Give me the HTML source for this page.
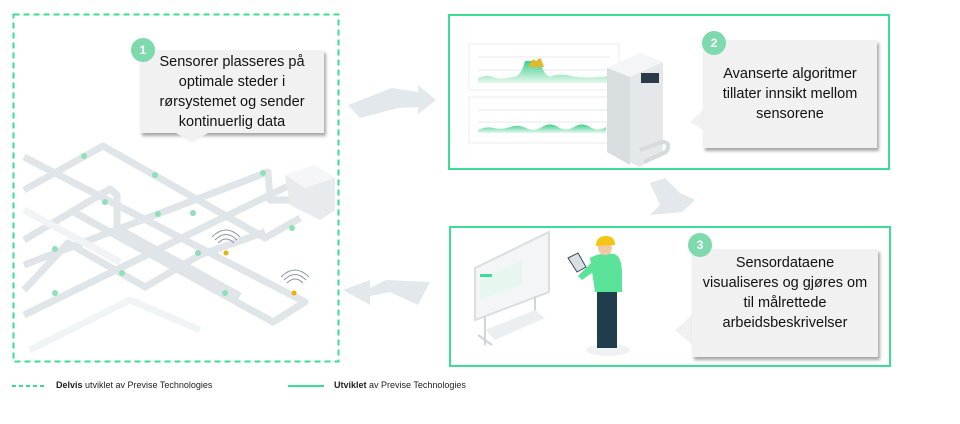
<!DOCTYPE html>
<html><head><meta charset="utf-8"><style>
body{margin:0;background:#fff;width:960px;height:424px;overflow:hidden;font-family:"Liberation Sans",sans-serif}
svg{position:absolute;left:0;top:0}
.b{position:absolute;background:#f1f1f1;box-shadow:2px 3px 3px rgba(0,0,0,.35);color:#111;text-align:center;font-size:14.5px;line-height:20px}
.c{position:absolute;width:24px;height:24px;border-radius:50%;background:#7ed9ad;color:#fff;font-weight:bold;font-size:12px;line-height:24px;text-align:center}
.lg{position:absolute;top:380px;font-size:9px;color:#222}
</style></head><body>
<svg width="960" height="424" viewBox="0 0 960 424">
<defs><linearGradient id="g" x1="0" y1="0" x2="0" y2="1"><stop offset="0" stop-color="#3fcf8e"/><stop offset="1" stop-color="#e6f8ee"/></linearGradient></defs>
<rect x="13.5" y="14.5" width="325" height="347" fill="none" stroke="#3ddc97" stroke-width="2" stroke-dasharray="6,4"/>
<rect x="449" y="15" width="440" height="154" fill="none" stroke="#3ddc97" stroke-width="2"/>
<rect x="450" y="227" width="440" height="139" fill="none" stroke="#3ddc97" stroke-width="2"/>
<g fill="none" stroke="#dfe5e8" stroke-width="7" stroke-linejoin="round">
<polyline points="24,190 103,146 265,238 300,218"/>
<polyline points="24,157 305,302 273,322 70,210"/>
<polyline points="24,240 110,189 117,195 117,228 240,296"/>
<polyline points="24,265 268,172 270,200 292,200"/>
<polyline points="24,315 290,185"/>
<polyline points="24,290 68,243 145,287 200,255 265,232"/>
</g>
<g fill="none" stroke="#f1f4f5" stroke-width="7"><polyline points="30,350 130,300 200,330"/><polyline points="24,210 120,262"/></g>
<g fill="#8fe0b8"><circle cx="84" cy="156" r="3"/><circle cx="155" cy="175" r="3"/><circle cx="158" cy="214" r="3"/><circle cx="193" cy="213" r="3"/><circle cx="263" cy="173" r="3"/><circle cx="55" cy="249" r="3"/><circle cx="122" cy="273" r="3"/><circle cx="225" cy="293" r="3"/><circle cx="198" cy="253" r="3"/><circle cx="292" cy="228" r="3"/><circle cx="105" cy="202" r="3"/><circle cx="55" cy="293" r="3"/></g>
<g fill="none" stroke="#8a98a0" stroke-width="1"><path d="M218,243 q8,-8 16,0 M215,240 q11,-11 22,0 M212,237 q14,-14 28,0"/><path d="M287,283 q8,-8 16,0 M284,280 q11,-11 22,0 M281,277 q14,-14 28,0"/></g>
<circle cx="226" cy="253" r="2.5" fill="#e8b400"/><circle cx="294" cy="293" r="2.5" fill="#e8b400"/>
<polygon points="285,175 315,165 335,178 335,210 320,220 290,205" fill="#e7ebed"/><polygon points="285,175 315,165 335,178 305,188" fill="#f4f6f7"/>
<polygon points="348,105 392,88 418,92 418,85 436,100 418,114 418,107 398,108 360,118" fill="#e2e8eb"/>
<polygon points="430,282 386,280 370,288 370,280 343,290 370,305 370,296 390,292 418,305" fill="#e2e8eb"/>
<polygon points="650,183 665,178 680,193 695,200 682,212 650,215 660,205" fill="#e2e8eb"/>
<rect x="469" y="44" width="150" height="46" fill="#fff" stroke="#eee"/>
<rect x="469" y="97" width="150" height="46" fill="#fff" stroke="#eee"/>
<g stroke="#e6e9eb"><line x1="478" y1="57" x2="610" y2="57"/><line x1="478" y1="70" x2="610" y2="70"/><line x1="478" y1="110" x2="610" y2="110"/><line x1="478" y1="122" x2="610" y2="122"/></g>
<path d="M478,78 q10,-4 15,-1 t20,0 q8,0 12,-16 h15 q5,18 12,15 t20,0 t38,0 v7 h-132z" fill="url(#g)"/>
<path d="M531,62 q3,-5 5,0 q3,-5 5,-3 l3,8 h-16z" fill="#e3b82b"/>
<path d="M478,130 q8,-4 16,-2 t16,-1 t16,1 t16,-1 t16,0 t16,0 t16,0 t16,0 v6 h-128z" fill="url(#g)"/>
<polygon points="607,68 640,53 663,62 663,153 640,167 607,152" fill="#e5e8ea"/><polygon points="607,68 640,53 663,62 630,77" fill="#f3f5f6"/><polygon points="607,68 630,77 630,165 607,152" fill="#d8dde0"/>
<rect x="641" y="73" width="18" height="10" fill="#2a3a48"/>
<path d="M640,150 l22,-8 q10,0 4,10 l-22,10" fill="none" stroke="#d5dadd" stroke-width="4"/>
<polygon points="475,268 549,232 549,292 475,320" fill="#f3f5f6" stroke="#d9dee1" stroke-width="2"/>
<polygon points="480,279 522,260 522,285 480,300" fill="#e7f6ee"/>
<rect x="480" y="274" width="12" height="3" fill="#3ddc97"/>
<g stroke="#cfd5d8" stroke-width="2"><line x1="485" y1="317" x2="485" y2="345"/><line x1="535" y1="296" x2="535" y2="320"/><line x1="478" y1="335" x2="492" y2="345"/></g>
<polygon points="485,330 535,310 545,318 495,340" fill="#eceff1"/>
<ellipse cx="608" cy="350" rx="22" ry="6" fill="#f0f1f2"/>
<rect x="597" y="290" width="20" height="58" fill="#1f3d4c"/>
<path d="M590,258 q10,-6 24,-4 q8,2 8,20 v18 h-27z" fill="#5be39a"/>
<path d="M592,262 l-14,14 l4,4 l14,-10z" fill="#5be39a"/>
<polygon points="568,258 578,253 586,267 577,272" fill="#d9e0e4" stroke="#3a4a56"/>
<circle cx="605" cy="248" r="7" fill="#f3c9a5"/><path d="M596,246 q0,-10 10,-10 q9,0 9,9z" fill="#f3c514"/>
</svg>
<div class="b" style="left:140px;top:50px;width:184px;height:83px;padding-top:2px;box-sizing:border-box">Sensorer plasseres på<br>optimale steder i<br>rørsystemet og sender<br>kontinuerlig data</div>
<svg width="960" height="424"><polygon points="176,133 208,133 192,143" fill="#f1f1f1"/><polygon points="703,110 703,130 690,122" fill="#f1f1f1"/><polygon points="692,315 692,345 675,330" fill="#f1f1f1"/></svg>
<div class="c" style="left:131px;top:38px">1</div>
<div class="b" style="left:703px;top:40px;width:174px;height:108px;padding-top:24px;box-sizing:border-box">Avanserte algoritmer<br>tillater innsikt mellom<br>sensorene</div>
<div class="c" style="left:702px;top:31px">2</div>
<div class="b" style="left:692px;top:249px;width:186px;height:108px;padding-top:4px;box-sizing:border-box">Sensordataene<br>visualiseres og gjøres om<br>til målrettede<br>arbeidsbeskrivelser</div>
<div class="c" style="left:688px;top:233px">3</div>
<svg width="960" height="424"><line x1="12" y1="386" x2="45" y2="386" stroke="#3ddc97" stroke-width="2" stroke-dasharray="4,3"/><line x1="288" y1="386" x2="324" y2="386" stroke="#3ddc97" stroke-width="2"/></svg>
<div class="lg" style="left:56px"><b>Delvis</b> utviklet av Previse Technologies</div>
<div class="lg" style="left:334px"><b>Utviklet</b> av Previse Technologies</div>
</body></html>
